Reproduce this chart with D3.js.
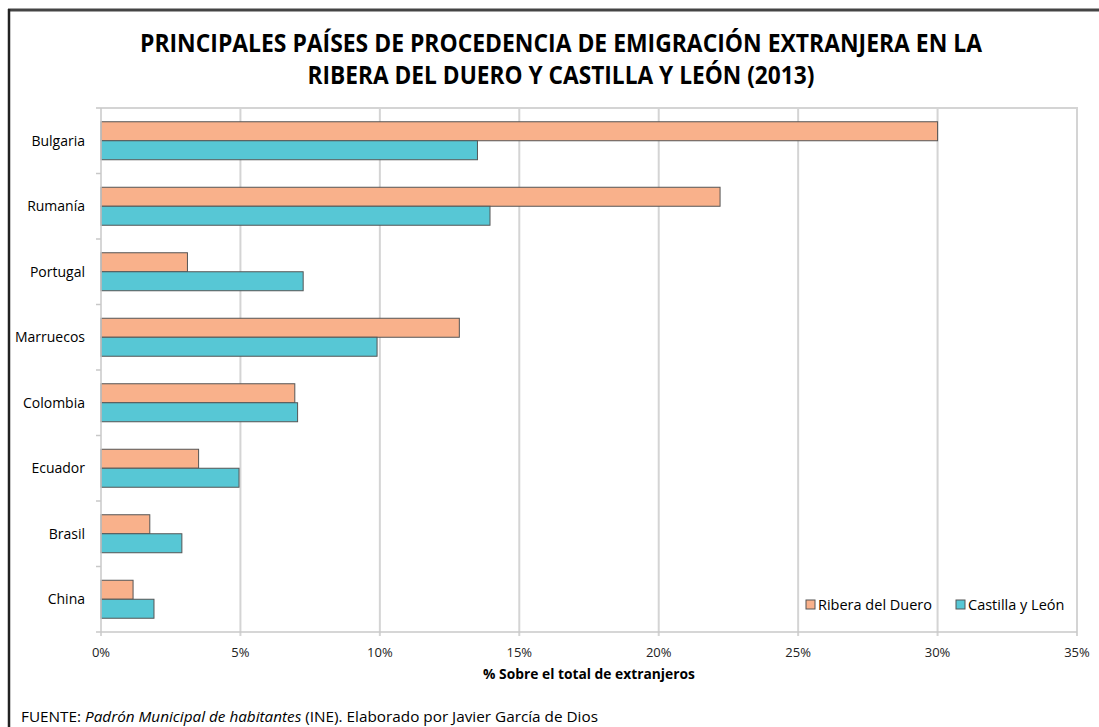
<!DOCTYPE html>
<html><head><meta charset="utf-8">
<script src="https://cdn.jsdelivr.net/npm/d3@7"></script>
<style>body{margin:0;background:#fff}svg{display:block}</style>
</head><body><svg id="c" width="1099" height="727"></svg>
<script>
const categories = ["Bulgaria","Rumanía","Portugal","Marruecos","Colombia","Ecuador","Brasil","China"];
const seriesNames = ["Ribera del Duero","Castilla y León"];
const riberaDuero = [30.0,22.2,3.1,12.85,6.95,3.5,1.75,1.15];
const castillaLeon = [13.5,13.95,7.25,9.9,7.05,4.95,2.9,1.9];
const xTicks = [0,5,10,15,20,25,30,35];
const colors = ["#F9B18B","#57C7D5"];

(function(){
const svg = d3.select("#c");
const font = "'Open Sans', sans-serif";
const pL = 101, pR = 1077, pT = 108, pB = 632;

// frame
svg.append("rect").attr("x",0).attr("y",0).attr("width",1099).attr("height",727).attr("fill","#fff");
svg.append("line").attr("x1",8).attr("x2",1099).attr("y1",10).attr("y2",10).attr("stroke","#444").attr("stroke-width",3);
svg.append("line").attr("x1",9).attr("x2",9).attr("y1",9).attr("y2",727).attr("stroke","#222").attr("stroke-width",2.5);

// title
svg.append("text").attr("x",561).attr("y",52).attr("text-anchor","middle")
  .attr("font-family","'Liberation Sans Narrow', 'Open Sans', sans-serif").attr("font-weight","bold")
  .attr("font-size",25).attr("fill","#000")
  .attr("textLength",842).attr("lengthAdjust","spacingAndGlyphs")
  .text("PRINCIPALES PAÍSES DE PROCEDENCIA DE EMIGRACIÓN EXTRANJERA EN LA");
svg.append("text").attr("x",561).attr("y",84).attr("text-anchor","middle")
  .attr("font-family","'Liberation Sans Narrow', 'Open Sans', sans-serif").attr("font-weight","bold")
  .attr("font-size",25).attr("fill","#000")
  .attr("textLength",507).attr("lengthAdjust","spacingAndGlyphs")
  .text("RIBERA DEL DUERO Y CASTILLA Y LEÓN (2013)");

const x = d3.scaleLinear().domain([0,35]).range([pL,pR]);
const y = d3.scaleBand().domain(categories).range([pT,pB]).paddingInner(0.42).paddingOuter(0.21);
const y1 = d3.scaleBand().domain(seriesNames).range([0,y.bandwidth()]);
const yOuter = d3.scaleBand().domain(categories).range([pT,pB]);

// gridlines
svg.append("g").selectAll("line").data(xTicks.slice(1)).join("line")
  .attr("x1",d=>x(d)).attr("x2",d=>x(d)).attr("y1",pT).attr("y2",pB+4)
  .attr("stroke","#d4d4d4").attr("stroke-width",2);
svg.append("line").attr("x1",96).attr("x2",pR+1).attr("y1",pT).attr("y2",pT).attr("stroke","#d4d4d4").attr("stroke-width",2);

// bars
const data = categories.map((c,i)=>({c, vals:[riberaDuero[i],castillaLeon[i]]}));
svg.append("g").selectAll("g").data(data).join("g").attr("transform",d=>`translate(0,${y(d.c)})`)
 .selectAll("rect").data(d=>d.vals.map((v,j)=>({v,s:seriesNames[j],j}))).join("rect")
 .attr("x",x(0)).attr("y",d=>y1(d.s)).attr("width",d=>x(d.v)-x(0)).attr("height",y1.bandwidth())
 .attr("fill",d=>colors[d.j]).attr("stroke","#555").attr("stroke-width",1);

// y axis
svg.append("line").attr("x1",pL).attr("x2",pL).attr("y1",pT).attr("y2",pB).attr("stroke","#c8c8c8").attr("stroke-width",1.5);
svg.append("g").selectAll("line").data(categories.slice(1)).join("line")
  .attr("x1",96).attr("x2",pL).attr("y1",d=>yOuter(d)).attr("y2",d=>yOuter(d))
  .attr("stroke","#c8c8c8").attr("stroke-width",1.5);
svg.append("g").selectAll("text").data(categories).join("text")
  .attr("x",85).attr("y",d=>yOuter(d)+yOuter.bandwidth()/2+5).attr("text-anchor","end")
  .attr("font-family",font).attr("font-size",14).attr("fill","#000").text(d=>d);

// x axis
svg.append("line").attr("x1",pL-5).attr("x2",pR).attr("y1",pB).attr("y2",pB).attr("stroke","#c8c8c8").attr("stroke-width",1.5);
svg.append("line").attr("x1",pL).attr("x2",pL).attr("y1",pB).attr("y2",pB+4).attr("stroke","#c8c8c8").attr("stroke-width",1.5);
svg.append("g").selectAll("text").data(xTicks).join("text")
  .attr("x",d=>x(d)).attr("y",657).attr("text-anchor","middle")
  .attr("font-family",font).attr("font-size",13).attr("fill","#222").text(d=>d+"%");
svg.append("text").attr("x",589).attr("y",679).attr("text-anchor","middle")
  .attr("font-family",font).attr("font-weight","bold").attr("font-size",13.8).attr("fill","#000")
  .text("% Sobre el total de extranjeros");

// legend
const legX = [806, 956];
seriesNames.forEach((s,i)=>{
  svg.append("rect").attr("x",legX[i]).attr("y",600).attr("width",9).attr("height",9)
    .attr("fill",colors[i]).attr("stroke","#555").attr("stroke-width",1);
  svg.append("text").attr("x",legX[i]+12).attr("y",610).attr("font-family",font).attr("font-size",14.5)
    .attr("fill","#000").text(s);
});

// footer
const f = svg.append("text").attr("x",21).attr("y",722).attr("font-family",font).attr("font-size",15.3).attr("fill","#000");
f.append("tspan").text("FUENTE: ");
f.append("tspan").attr("font-style","italic").text("Padrón Municipal de habitantes");
f.append("tspan").text(" (INE). Elaborado por Javier García de Dios");
})();
</script></body></html>
